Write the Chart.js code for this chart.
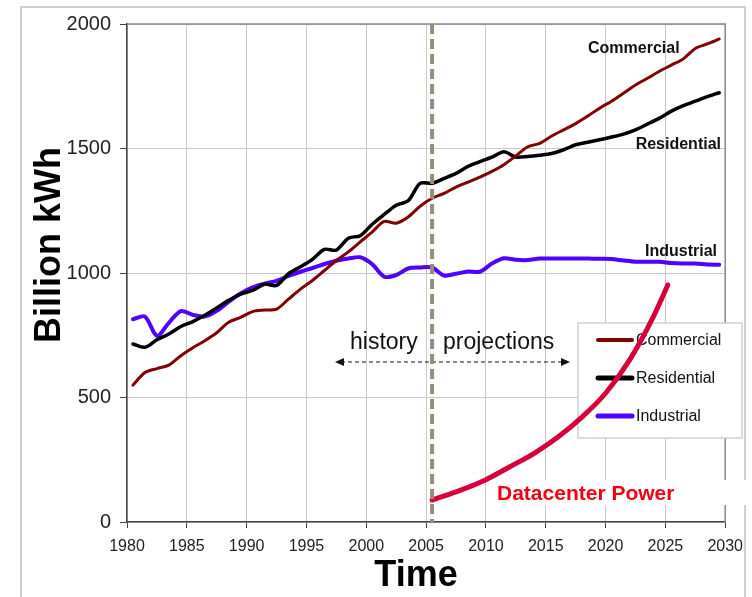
<!DOCTYPE html>
<html>
<head>
<meta charset="utf-8">
<script src="https://cdn.jsdelivr.net/npm/chart.js@4.4.1/dist/chart.umd.min.js"></script>
<style>
  html, body { margin: 0; padding: 0; background: #fff; }
  canvas { display: block; }
</style>
</head>
<body>
<canvas id="chart" width="752" height="597"></canvas>
<script>
// yearly values, billion kWh (plotted at mid-year)
var years = [1980, 1981, 1982, 1983, 1984, 1985, 1986, 1987, 1988, 1989,
             1990, 1991, 1992, 1993, 1994, 1995, 1996, 1997, 1998, 1999,
             2000, 2001, 2002, 2003, 2004, 2005, 2006, 2007, 2008, 2009,
             2010, 2011, 2012, 2013, 2014, 2015, 2016, 2017, 2018, 2019,
             2020, 2021, 2022, 2023, 2024, 2025, 2026, 2027, 2028, 2029];
var commercial = [550, 600, 616, 630, 668, 700, 728, 760, 802, 822,
                  845, 851, 855, 895, 935, 970, 1010, 1050, 1085, 1125,
                  1165, 1207, 1200, 1225, 1268, 1300, 1320, 1345, 1365, 1385,
                  1408, 1435, 1470, 1507, 1521, 1550, 1575, 1600, 1630, 1662,
                  1690, 1722, 1755, 1782, 1810, 1835, 1860, 1902, 1920, 1940];
var residential = [715, 702, 732, 755, 785, 805, 830, 860, 890, 915,
                   930, 955, 950, 997, 1025, 1055, 1095, 1092, 1140, 1150,
                   1196, 1235, 1272, 1290, 1360, 1360, 1380, 1400, 1428, 1447,
                   1465, 1487, 1466, 1468, 1473, 1480, 1495, 1515, 1525, 1535,
                   1546, 1558, 1575, 1598, 1622, 1650, 1672, 1690, 1708, 1724];
var industrial = [814, 825, 748, 800, 847, 832, 825, 848, 885, 918,
                  942, 957, 968, 988, 1005, 1020, 1036, 1049, 1058, 1063,
                  1035, 985, 992, 1018, 1022, 1022, 990, 997, 1006, 1005,
                  1038, 1059, 1053, 1052, 1058, 1058, 1058, 1058, 1058, 1057,
                  1056, 1050, 1045, 1045, 1045, 1040, 1038, 1038, 1034, 1033];
// datacenter projection
var dcYears = [2005.5, 2008, 2010, 2012, 2014, 2016, 2018, 2020, 2022, 2024, 2025.2];
var datacenter = [88, 130, 170, 222, 275, 340, 420, 517, 650, 825, 952];

var splitYear = 2005.5;
var xTicks = [1980, 1985, 1990, 1995, 2000, 2005, 2010, 2015, 2020, 2025, 2030];
var yTicks = [0, 500, 1000, 1500, 2000];

function pts(vals) {
  return vals.map(function (v, i) { return { x: years[i] + 0.5, y: v }; });
}

var FONT = '"Liberation Sans", Arial, sans-serif';

var decor = {
  id: 'decor',
  beforeDraw: function (chart) {
    var c = chart.ctx;
    c.save();
    c.fillStyle = '#fff';
    c.fillRect(0, 0, chart.width, chart.height);
    c.strokeStyle = '#cfcfcf';
    c.lineWidth = 2;
    c.strokeRect(21, 7, 724, 620);
    c.restore();
  },
  beforeDatasetsDraw: function (chart) {
    var c = chart.ctx, a = chart.chartArea;
    c.save();
    // plot frame top/right
    c.strokeStyle = '#888';
    c.lineWidth = 1.5;
    c.beginPath();
    c.moveTo(a.left, a.top);
    c.lineTo(a.right, a.top);
    c.lineTo(a.right, a.bottom);
    c.stroke();
    // legend
    c.fillStyle = '#fff';
    c.fillRect(578, 323, 164, 115);
    c.strokeStyle = '#d0d0d0';
    c.lineWidth = 1.5;
    c.strokeRect(578, 323, 164, 115);
    var items = chart.data.datasets.filter(function (d) { return d.inLegend; });
    c.font = '16px ' + FONT;
    c.textBaseline = 'middle';
    items.forEach(function (d, i) {
      var y = 340 + i * 38;
      c.strokeStyle = d.borderColor;
      c.lineWidth = d.legendWidth;
      c.lineCap = 'round';
      c.beginPath();
      c.moveTo(598, y);
      c.lineTo(632, y);
      c.stroke();
      c.fillStyle = '#111';
      c.fillText(d.label, 636, y + 1);
    });
    c.restore();
  },
  afterDatasetsDraw: function (chart) {
    var c = chart.ctx, a = chart.chartArea;
    var xs = chart.scales.x;
    c.save();
    // history / projections arrow
    var ay = 362, x0 = 335, x1 = 570;
    c.strokeStyle = '#111';
    c.fillStyle = '#111';
    c.lineWidth = 1.2;
    c.setLineDash([4, 3]);
    c.beginPath();
    c.moveTo(x0 + 6, ay);
    c.lineTo(x1 - 6, ay);
    c.stroke();
    c.setLineDash([]);
    c.beginPath();
    c.moveTo(x0, ay); c.lineTo(x0 + 9, ay - 4); c.lineTo(x0 + 9, ay + 4); c.closePath();
    c.fill();
    c.beginPath();
    c.moveTo(x1, ay); c.lineTo(x1 - 9, ay - 4); c.lineTo(x1 - 9, ay + 4); c.closePath();
    c.fill();
    c.font = '23px ' + FONT;
    c.textBaseline = 'alphabetic';
    c.textAlign = 'left';
    c.fillText('history', 350, 349);
    c.fillText('projections', 443, 349);
    // split line
    var sx = xs.getPixelForValue(splitYear);
    c.strokeStyle = '#968c7c';
    c.lineWidth = 4;
    c.setLineDash([10, 5]);
    c.beginPath();
    c.moveTo(sx, a.top);
    c.lineTo(sx, a.bottom);
    c.stroke();
    c.setLineDash([]);
    // series labels
    c.font = 'bold 16px ' + FONT;
    c.fillStyle = '#111';
    c.textBaseline = 'middle';
    c.textAlign = 'left';
    c.fillText('Commercial', 588, 49);
    c.textAlign = 'right';
    c.fillText('Residential', 721, 145);
    c.fillText('Industrial', 717, 252);
    // datacenter label on white box
    c.fillStyle = '#fff';
    c.fillRect(490, 480, 262, 25);
    c.textAlign = 'left';
    c.font = 'bold 21px ' + FONT;
    c.fillStyle = '#f00010';
    c.fillText('Datacenter Power', 497, 494);
    // axis titles
    c.fillStyle = '#000';
    c.font = 'bold 36px ' + FONT;
    c.textAlign = 'center';
    c.fillText('Time', 416, 576);
    c.translate(50, 245);
    c.rotate(-Math.PI / 2);
    c.fillText('Billion kWh', 0, 0);
    c.restore();
  }
};

new Chart(document.getElementById('chart'), {
  type: 'line',
  data: {
    datasets: [{
      label: 'Commercial',
      data: pts(commercial),
      borderColor: '#800000',
      borderWidth: 3,
      legendWidth: 4,
      inLegend: true
    }, {
      label: 'Residential',
      data: pts(residential),
      borderColor: '#000000',
      borderWidth: 3.5,
      legendWidth: 5,
      inLegend: true
    }, {
      label: 'Industrial',
      data: pts(industrial),
      borderColor: '#5000ff',
      borderWidth: 4,
      legendWidth: 5,
      inLegend: true
    }, {
      label: 'Datacenter Power',
      data: dcYears.map(function (y, i) { return { x: y, y: datacenter[i] }; }),
      borderColor: '#d5003b',
      borderWidth: 5,
      cubicInterpolationMode: 'monotone',
      order: -1,
      inLegend: false
    }]
  },
  options: {
    responsive: false,
    animation: false,
    layout: { padding: { left: 0, right: 25, top: 24, bottom: 0 } },
    elements: {
      point: { radius: 0 },
      line: { tension: 0.3, borderJoinStyle: 'round', borderCapStyle: 'round', fill: false }
    },
    scales: {
      x: {
        type: 'linear',
        min: 1980,
        max: 2030,
        afterBuildTicks: function (s) { s.ticks = xTicks.map(function (v) { return { value: v }; }); },
        afterFit: function (s) { s.height = 75; },
        ticks: {
          color: '#222',
          font: { family: FONT, size: 16 },
          padding: 9,
          maxRotation: 0,
          callback: function (v) { return String(v); }
        },
        grid: { color: '#c8c8c8', lineWidth: 1, tickColor: '#444', tickLength: 6 },
        border: { color: '#444', width: 1.5 }
      },
      y: {
        min: 0,
        max: 2000,
        afterBuildTicks: function (s) { s.ticks = yTicks.map(function (v) { return { value: v }; }); },
        afterFit: function (s) { s.width = 127; },
        ticks: {
          color: '#222',
          font: { family: FONT, size: 20 },
          padding: 9,
          callback: function (v) { return String(v); }
        },
        grid: { color: '#c8c8c8', lineWidth: 1, tickColor: '#444', tickLength: 7 },
        border: { color: '#444', width: 1.5 }
      }
    },
    plugins: {
      legend: { display: false },
      tooltip: { enabled: false }
    }
  },
  plugins: [decor]
});
</script>
</body>
</html>
